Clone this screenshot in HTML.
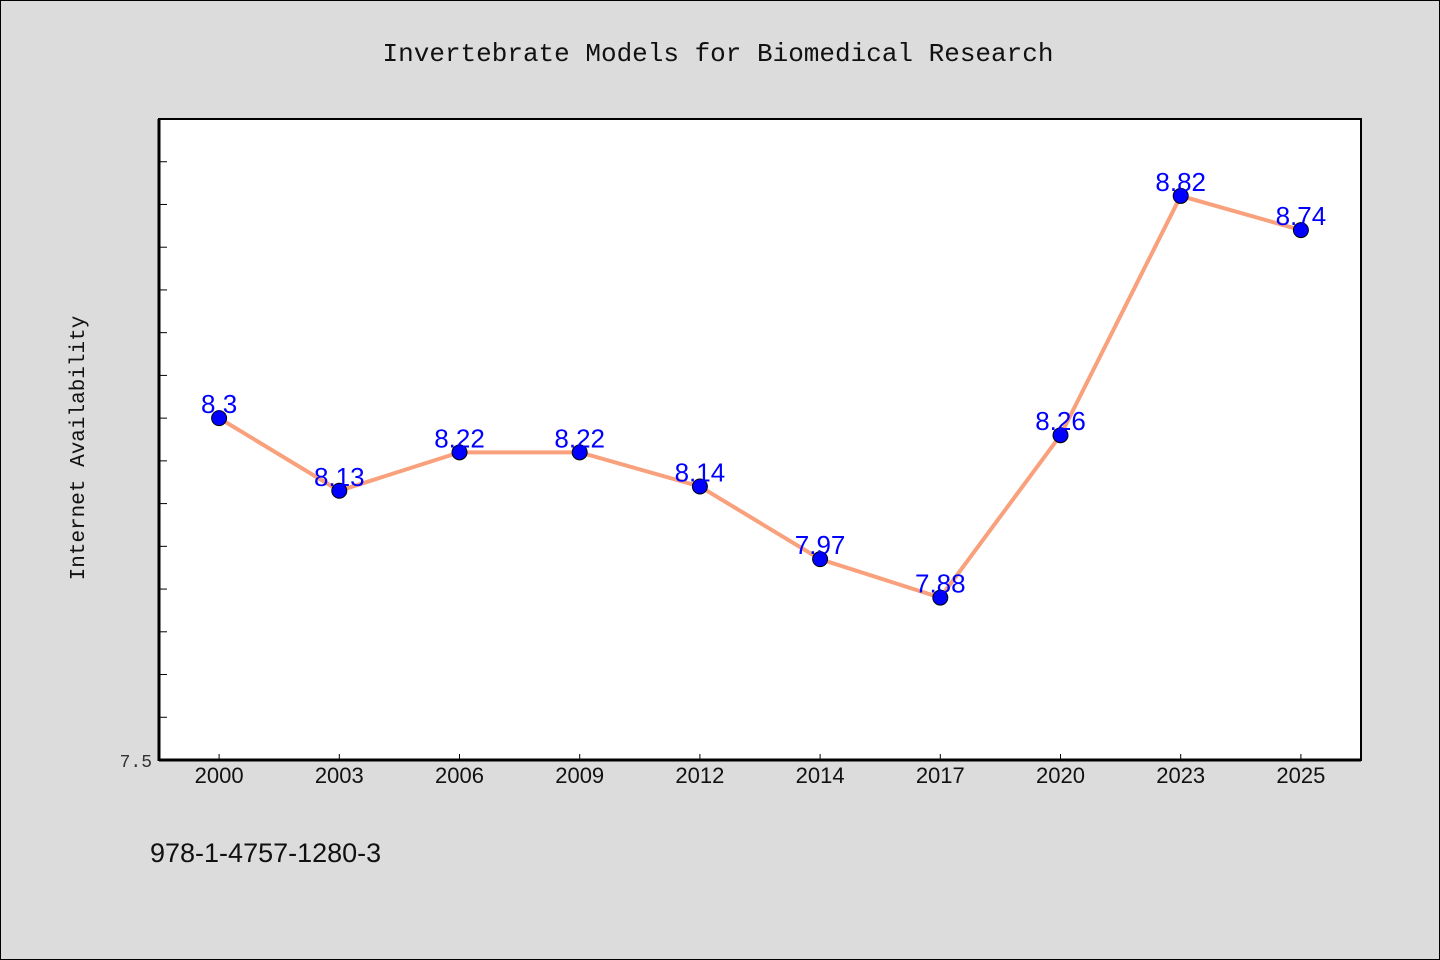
<!DOCTYPE html>
<html><head><meta charset="utf-8"><style>
html,body{margin:0;padding:0;background:#dcdcdc;}
svg{display:block;font-family:"Liberation Sans","Noto Sans CJK SC",sans-serif;}
</style></head><body>
<svg width="1440" height="960">
<rect x="0.5" y="0.5" width="1439" height="959" fill="#dcdcdc" stroke="#000" stroke-width="1"/>
<text x="718" y="61" text-anchor="middle" font-size="26" font-family="'Liberation Mono','Noto Sans CJK SC',monospace" fill="#111">Invertebrate Models for Biomedical Research</text>
<rect x="159" y="119" width="1202" height="641" fill="#fff" stroke="#000" stroke-width="2"/>
<g id="axes"></g>
<g id="marks"></g>
<text transform="translate(84,448) rotate(-90)" text-anchor="middle" font-size="21" font-family="'Liberation Mono','Noto Sans CJK SC',monospace" fill="#111">Internet Availability</text>
<text x="150" y="862" font-size="27" fill="#111">978-1-4757-1280-3</text>
</svg>
<script>
const categories=["2000","2003","2006","2009","2012","2014","2017","2020","2023","2025"];
const values=[8.3,8.13,8.22,8.22,8.14,7.97,7.88,8.26,8.82,8.74];
const valueLabels=["8.3","8.13","8.22","8.22","8.14","7.97","7.88","8.26","8.82","8.74"];
const yMin=7.5,yMax=9.0;
const L=159,R=1361,T=119,B=760;
const NS="http://www.w3.org/2000/svg";
const bw=(R-L)/categories.length;
function xs(i){return L+bw*(i+0.5);}
function ys(v){return B-(v-yMin)/(yMax-yMin)*(B-T);}
function mk(t,a,p){const e=document.createElementNS(NS,t);for(const k in a)e.setAttribute(k,a[k]);p.appendChild(e);return e;}
const ax=document.getElementById('axes'),mg=document.getElementById('marks');
for(let v=7.6;v<9.0;v+=0.1){
 const l=mk('line',{x1:L,x2:L+8,y1:ys(v),y2:ys(v),stroke:'#000','stroke-width':1},ax);
 
 
}
const yl=mk('text',{x:152,y:767,'text-anchor':'end','font-size':18,fill:'#333','font-family':"'Liberation Mono',monospace"},ax);
yl.textContent="7.5";


categories.forEach((c,i)=>{
 const t=mk('line',{x1:xs(i),x2:xs(i),y1:B,y2:B-6,stroke:'#000','stroke-width':1},ax);
 
 
 const tx=mk('text',{x:xs(i),y:783,'text-anchor':'middle','font-size':22,fill:'#111'},ax);
 tx.textContent=c;
 
 
});
mk('line',{x1:L,x2:L,y1:T,y2:B+1,stroke:'#000','stroke-width':3},ax);
mk('line',{x1:L,x2:R,y1:B,y2:B,stroke:'#000','stroke-width':3},ax);
const line=mk('polyline',{points:values.map((v,i)=>xs(i)+','+ys(v)).join(' '),fill:'none',stroke:'#f9a07c','stroke-width':4},mg);


values.forEach((v,i)=>{
 const c=mk('circle',{cx:xs(i),cy:ys(v),r:7.5,fill:'#0000ff',stroke:'#000','stroke-width':1},mg);
 
 
 const t=mk('text',{x:xs(i),y:ys(v)-5,'text-anchor':'middle','font-size':26,fill:'#0000ff'},mg);
 t.textContent=valueLabels[i];
 
 
});
</script>
</body></html>
